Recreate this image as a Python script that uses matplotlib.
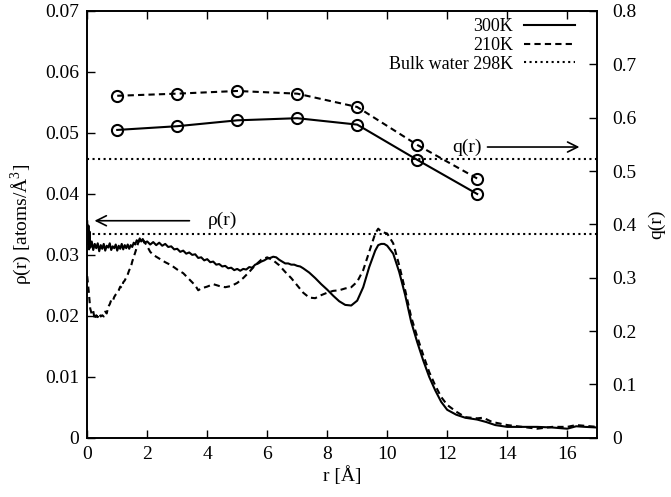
import numpy as np
from matplotlib import pyplot as plt

plt.rcParams['font.family'] = ['Liberation Serif', 'DejaVu Serif']
plt.rcParams['font.size'] = 13
plt.rcParams['mathtext.fontset'] = 'custom'
plt.rcParams['mathtext.rm'] = 'Liberation Serif'

# density rho(r), 300K
r_300 = [0.0, 0.02, 0.04, 0.06, 0.08, 0.1, 0.15, 0.2, 0.25, 0.3, 0.35, 0.4, 0.45, 0.5,
         0.55, 0.6, 0.65, 0.7, 0.75, 0.8, 0.85, 0.9, 0.95, 1.0, 1.05, 1.1, 1.15, 1.2,
         1.25, 1.3, 1.35, 1.4, 1.45, 1.5, 1.55, 1.6, 1.65, 1.7, 1.75, 1.8, 1.85, 1.9,
         2.0, 2.1, 2.2, 2.3, 2.4, 2.5, 2.6, 2.7, 2.8, 2.9, 3.0, 3.1, 3.2, 3.3, 3.4,
         3.5, 3.6, 3.7, 3.8, 3.9, 4.0, 4.1, 4.2, 4.3, 4.4, 4.5, 4.6, 4.7, 4.8, 4.9,
         5.0, 5.1, 5.2, 5.3, 5.4, 5.5, 5.6, 5.7, 5.8, 5.9, 6.0, 6.1, 6.2, 6.3, 6.4,
         6.5, 6.6, 6.7, 6.8, 6.9, 7.0, 7.1, 7.2, 7.4, 7.6, 7.8, 8.0, 8.2, 8.4, 8.6,
         8.8, 9.0, 9.2, 9.4, 9.6, 9.7, 9.8, 9.9, 10.0, 10.2, 10.4, 10.6, 10.8, 11.0,
         11.2, 11.4, 11.6, 11.8, 12.0, 12.3, 12.6, 13.0, 13.3, 13.6, 14.0, 14.5, 15.0,
         15.5, 16.0, 16.3, 16.6, 17.0]
rho_300 = [0.0355, 0.0318, 0.0348, 0.0309, 0.0338, 0.0312, 0.0322, 0.0308, 0.0318, 0.0311,
           0.0319, 0.0306, 0.0316, 0.0310, 0.0318, 0.0307, 0.0315, 0.0312, 0.0319, 0.0308,
           0.0314, 0.0311, 0.0317, 0.0307, 0.0315, 0.0310, 0.0318, 0.0309, 0.0316, 0.0311,
           0.0317, 0.0310, 0.0316, 0.0313, 0.0320, 0.0317, 0.0324, 0.0321, 0.0327, 0.0322,
           0.0326, 0.0320, 0.0322, 0.0317, 0.0321, 0.0316, 0.0320, 0.0315, 0.0318, 0.0313,
           0.0314, 0.0309, 0.0310, 0.0305, 0.0307, 0.0302, 0.0304, 0.0300, 0.0301, 0.0295,
           0.0296, 0.0291, 0.0293, 0.0288, 0.0289, 0.0284, 0.0285, 0.0281, 0.0282, 0.0278,
           0.0279, 0.0275, 0.0277, 0.0274, 0.0277, 0.0276, 0.0280, 0.0279, 0.0284, 0.0286,
           0.0289, 0.0291, 0.0294, 0.0295, 0.0297, 0.0296, 0.0292, 0.0289, 0.0286, 0.0286,
           0.0284, 0.0284, 0.0282, 0.0281, 0.0278, 0.0271, 0.0262, 0.0252, 0.0243, 0.0233,
           0.0224, 0.0218, 0.0217, 0.0225, 0.0247, 0.0280, 0.0307, 0.0316, 0.0318, 0.0318,
           0.0315, 0.0302, 0.0272, 0.0234, 0.0190, 0.0157, 0.0127, 0.0100, 0.0078, 0.0059,
           0.0046, 0.0038, 0.0033, 0.0030, 0.0026, 0.0021, 0.0018, 0.0018, 0.0018, 0.0017,
           0.0015, 0.0019, 0.0018, 0.0017]

# density rho(r), 210K
r_210 = [0.0, 0.05, 0.1, 0.15, 0.2, 0.25, 0.3, 0.35, 0.4, 0.45, 0.5, 0.55, 0.6, 0.65, 0.7,
         0.75, 0.8, 0.85, 0.9, 0.95, 1.0, 1.05, 1.1, 1.15, 1.2, 1.25, 1.3, 1.35, 1.4,
         1.45, 1.5, 1.6, 1.7, 1.8, 1.9, 2.0, 2.1, 2.2, 2.4, 2.6, 2.8,
         3.0, 3.2, 3.4, 3.6, 3.7, 3.8, 4.0, 4.2, 4.4, 4.6, 4.8, 5.0, 5.2, 5.4, 5.6, 5.8,
         6.0, 6.2, 6.4, 6.6, 6.8, 7.0, 7.2, 7.4, 7.6, 7.8, 8.0, 8.2, 8.4, 8.6, 8.8, 9.0,
         9.2, 9.4, 9.6, 9.7, 9.8, 10.0, 10.2, 10.4, 10.6, 10.8, 11.0, 11.2, 11.4, 11.6,
         11.8, 12.0, 12.3, 12.6, 13.0, 13.2, 13.5, 14.0, 14.5, 15.0, 15.5, 16.0, 16.3,
         17.0]
rho_210 = [0.0265, 0.0240, 0.0212, 0.0203, 0.0208, 0.0194, 0.0201, 0.0198, 0.0204, 0.0199,
           0.0201, 0.0199, 0.0207, 0.0204, 0.0215, 0.0219, 0.0226, 0.0224, 0.0231, 0.0235,
           0.0238, 0.0242, 0.0248, 0.0246, 0.0255, 0.0258, 0.0263, 0.0268, 0.0275, 0.0279,
           0.0289, 0.0304, 0.0320, 0.0328, 0.0322, 0.0314, 0.0305, 0.0300, 0.0294, 0.0288,
           0.0283, 0.0276, 0.0270, 0.0260, 0.0250, 0.0242, 0.0245, 0.0248, 0.0252, 0.0249,
           0.0247, 0.0249, 0.0254, 0.0262, 0.0272, 0.0283, 0.0292, 0.0296, 0.0291, 0.0283,
           0.0272, 0.0262, 0.0250, 0.0238, 0.0230, 0.0229, 0.0234, 0.0238, 0.0241, 0.0242,
           0.0245, 0.0247, 0.0256, 0.0275, 0.0305, 0.0335, 0.0343, 0.0338, 0.0335, 0.0319,
           0.0283, 0.0242, 0.0198, 0.0166, 0.0136, 0.0108, 0.0086, 0.0067, 0.0054, 0.0043,
           0.0034, 0.0032, 0.0033, 0.0026, 0.0021, 0.0018, 0.0015, 0.0018, 0.0018, 0.0021,
           0.0018]

# q(r) averaged in shells
r_q = [1, 3, 5, 7, 9, 11, 13]
q_300 = [0.577, 0.584, 0.595, 0.599, 0.587, 0.521, 0.457]
q_210 = [0.641, 0.645, 0.650, 0.645, 0.620, 0.549, 0.486]

rho_bulk = 0.0334
q_bulk = 0.522

fig = plt.figure(figsize=(6.71, 4.97), dpi=100)
ax1 = fig.add_axes([0.130, 0.119, 0.760, 0.859])
ax2 = ax1.twinx()

ax1.plot(r_300, rho_300, 'k-', lw=1.5, label='300K')
ax1.plot(r_210, rho_210, 'k--', lw=1.5, dashes=(3, 2), label='210K')
ax1.axhline(rho_bulk, color='k', ls=':', lw=1.5, label='Bulk water 298K')

ax2.plot(r_q, q_300, 'k-', lw=1.5, marker='o', ms=8, mfc='none', mew=1.5)
ax2.plot(r_q, q_210, 'k--', lw=1.5, dashes=(3, 2), marker='o', ms=8, mfc='none', mew=1.5)
ax2.axhline(q_bulk, color='k', ls=':', lw=1.5)

ax1.annotate('', xy=(0.15, 0.0356), xytext=(3.5, 0.0356),
             arrowprops=dict(arrowstyle='->', lw=1.2, color='k', mutation_scale=18))
ax1.text(4.5, 0.0356, 'ρ(r)', ha='center', va='center', fontsize=14)
ax2.annotate('', xy=(16.5, 0.545), xytext=(13.25, 0.545),
             arrowprops=dict(arrowstyle='->', lw=1.2, color='k', mutation_scale=18))
ax2.text(12.65, 0.545, 'q(r)', ha='center', va='center', fontsize=14)

ax1.set_xlim(0, 17)
ax1.set_ylim(0, 0.07)
ax2.set_ylim(0, 0.8)
ax1.set_xticks(np.arange(0, 17, 2))
ax1.set_yticks(np.arange(0, 0.071, 0.01))
ax2.set_yticks(np.arange(0, 0.81, 0.1))
ax1.set_yticklabels(['0', '0.01', '0.02', '0.03', '0.04', '0.05', '0.06', '0.07'])
ax2.set_yticklabels(['0', '0.1', '0.2', '0.3', '0.4', '0.5', '0.6', '0.7', '0.8'])

ax1.tick_params(axis='x', direction='in', top=True, length=6, width=1, pad=6, labelsize=14)
ax1.tick_params(axis='y', direction='in', length=6, width=1, pad=6, labelsize=14)
ax2.tick_params(axis='y', direction='in', length=6, width=1, pad=11, labelsize=14)
for a in (ax1, ax2):
    for s in a.spines.values():
        s.set_linewidth(1.2)

ax1.set_xlabel('r [Å]', labelpad=2, fontsize=14)
ax1.set_ylabel(r'ρ(r) [atoms/Å$^3$]', labelpad=8, fontsize=14)
ax2.set_ylabel('q(r)', labelpad=8, fontsize=14)

ax1.legend(loc='upper right', bbox_to_anchor=(0.97, 1.0), markerfirst=False,
           frameon=False, handlelength=2.8, labelspacing=0.1, borderaxespad=0,
           handletextpad=0.6, fontsize=13)

fig.savefig('out.png', dpi=100)
